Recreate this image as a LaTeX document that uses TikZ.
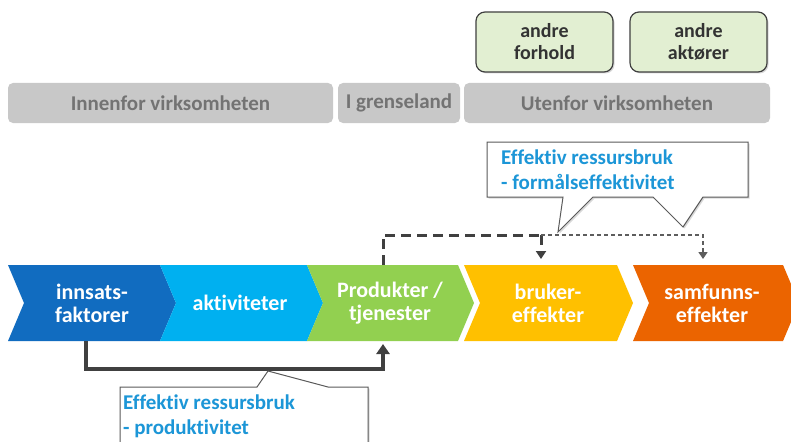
\documentclass[tikz,border=0pt]{standalone}
\usepackage{fontspec}
\setmainfont[Ligatures=NoCommon]{Carlito}
\usetikzlibrary{arrows.meta,shadows}
\definecolor{dblue}{RGB}{17,108,192}
\definecolor{lblue}{RGB}{0,176,240}
\definecolor{cgreen}{RGB}{146,208,80}
\definecolor{cyellow}{RGB}{255,192,0}
\definecolor{corange}{RGB}{235,100,0}
\definecolor{hdrfill}{RGB}{200,200,200}
\definecolor{hdrtext}{RGB}{115,115,115}
\definecolor{boxfill}{RGB}{226,239,210}
\definecolor{darkline}{RGB}{64,64,64}
\definecolor{calloutblue}{RGB}{28,150,215}
\definecolor{calloutline}{RGB}{90,90,90}
\begin{document}
\begin{tikzpicture}[x=1pt,y=-1pt,
  hdr/.style={fill=hdrfill, rounded corners=5pt, text=hdrtext, inner sep=0pt,
    minimum height=40pt, font=\fontsize{21}{23}\selectfont\bfseries},
  greenbox/.style={fill=boxfill, draw=darkline, line width=1.2pt, rounded corners=9pt,
    minimum width=137pt, minimum height=60pt, inner sep=0pt, align=center,
    text=black!80, font=\fontsize{20}{22}\selectfont\bfseries,
    drop shadow={opacity=0.3, shadow xshift=1.5pt, shadow yshift=-1.5pt}},
  chevtext/.style={text=white, align=center, inner sep=0pt,
    font=\fontsize{22}{23}\selectfont\bfseries},
  callout/.style={fill=white, draw=calloutline, line width=1pt,
    drop shadow={opacity=0.3, shadow xshift=1.5pt, shadow yshift=-1.5pt}},
  callouttext/.style={text=calloutblue, align=left, inner sep=0pt,
    font=\fontsize{21}{25}\selectfont\bfseries},
  solidconn/.style={draw=darkline, line width=4pt,
    -{Triangle[length=10pt,width=13pt]}},
  thickdash/.style={draw=darkline, line width=3pt, dash pattern=on 10pt off 6pt},
  thindash/.style={draw=darkline!85, line width=1.5pt, dash pattern=on 4pt off 3pt}
]
\clip (0,0) rectangle (791,441);
\fill[white] (0,0) rectangle (791,441);

% top green boxes
\node[greenbox] (forhold) at (544.5,42) {andre\\forhold};
\node[greenbox] (aktorer) at (698.5,42) {andre\\aktører};

% header bars
\node[hdr, minimum width=325pt] (innenfor) at (170.5,103) {Innenfor virksomheten};
\node[hdr, minimum width=122pt] (grense) at (399,103) {I grenseland};
\node[hdr, minimum width=306pt] (utenfor) at (617,103) {Utenfor virksomheten};

% chevrons
\fill[dblue] (8,265) -- (160,265) -- (176,303) -- (160,341) -- (8,341) -- (24,303) -- cycle;
\fill[lblue] (160,265) -- (307,265) -- (323,303) -- (307,341) -- (160,341) -- (176,303) -- cycle;
\fill[cgreen] (307,265) -- (458,265) -- (474,303) -- (458,341) -- (307,341) -- (323,303) -- cycle;
\fill[cyellow] (464,265) -- (617,265) -- (633,303) -- (617,341) -- (464,341) -- (480,303) -- cycle;
\fill[corange] (633,265) -- (783,265) -- (799,303) -- (783,341) -- (633,341) -- (649,303) -- cycle;

\node[chevtext] (innsats) at (92,303) {innsats-\\faktorer};
\node[chevtext] (aktiv) at (240,303) {aktiviteter};
\node[chevtext] (prod) at (390,303) {Produkter /\\tjenester};
\node[chevtext] (bruker) at (548,303) {bruker-\\effekter};
\node[chevtext] (samf) at (712,303) {samfunns-\\effekter};

% connector anchor points on chevron edges
\coordinate (innsatsbot) at (86,341);
\coordinate (prodbot) at (383,344);
\coordinate (prodtop) at (383,265);
\coordinate (split) at (541,235);
\coordinate (brukertop) at (541,259);
\coordinate (samftop) at (703,259);

% solid productivity connector
\draw[solidconn] (innsatsbot) -- ++(0,28) -| (prodbot);

% dashed effectiveness connectors
\draw[thickdash] (prodtop) |- (split);
\draw[thickdash, -{Triangle[length=8pt,width=10pt]}] (split) -- (brukertop);
\draw[thindash, -{Triangle[length=7pt,width=9pt]}] (split) -| (samftop);

% top callout
\path[callout] (487,142) -- (748,142) -- (748,197) -- (703,197) -- (683,227)
  -- (653,197) -- (593,197) -- (558,232) -- (563,197) -- (487,197) -- cycle;
\node[callouttext, anchor=west] (formal) at (501,170) {Effektiv ressursbruk\\- formålseffektivitet};

% bottom callout
\path[callout] (120,460) -- (120,387) -- (257,387) -- (268,371) -- (328,387)
  -- (368,387) -- (368,460) -- cycle;
\node[callouttext, anchor=north west] (produktiv) at (123,395) {Effektiv ressursbruk\\- produktivitet};
\end{tikzpicture}
\end{document}
